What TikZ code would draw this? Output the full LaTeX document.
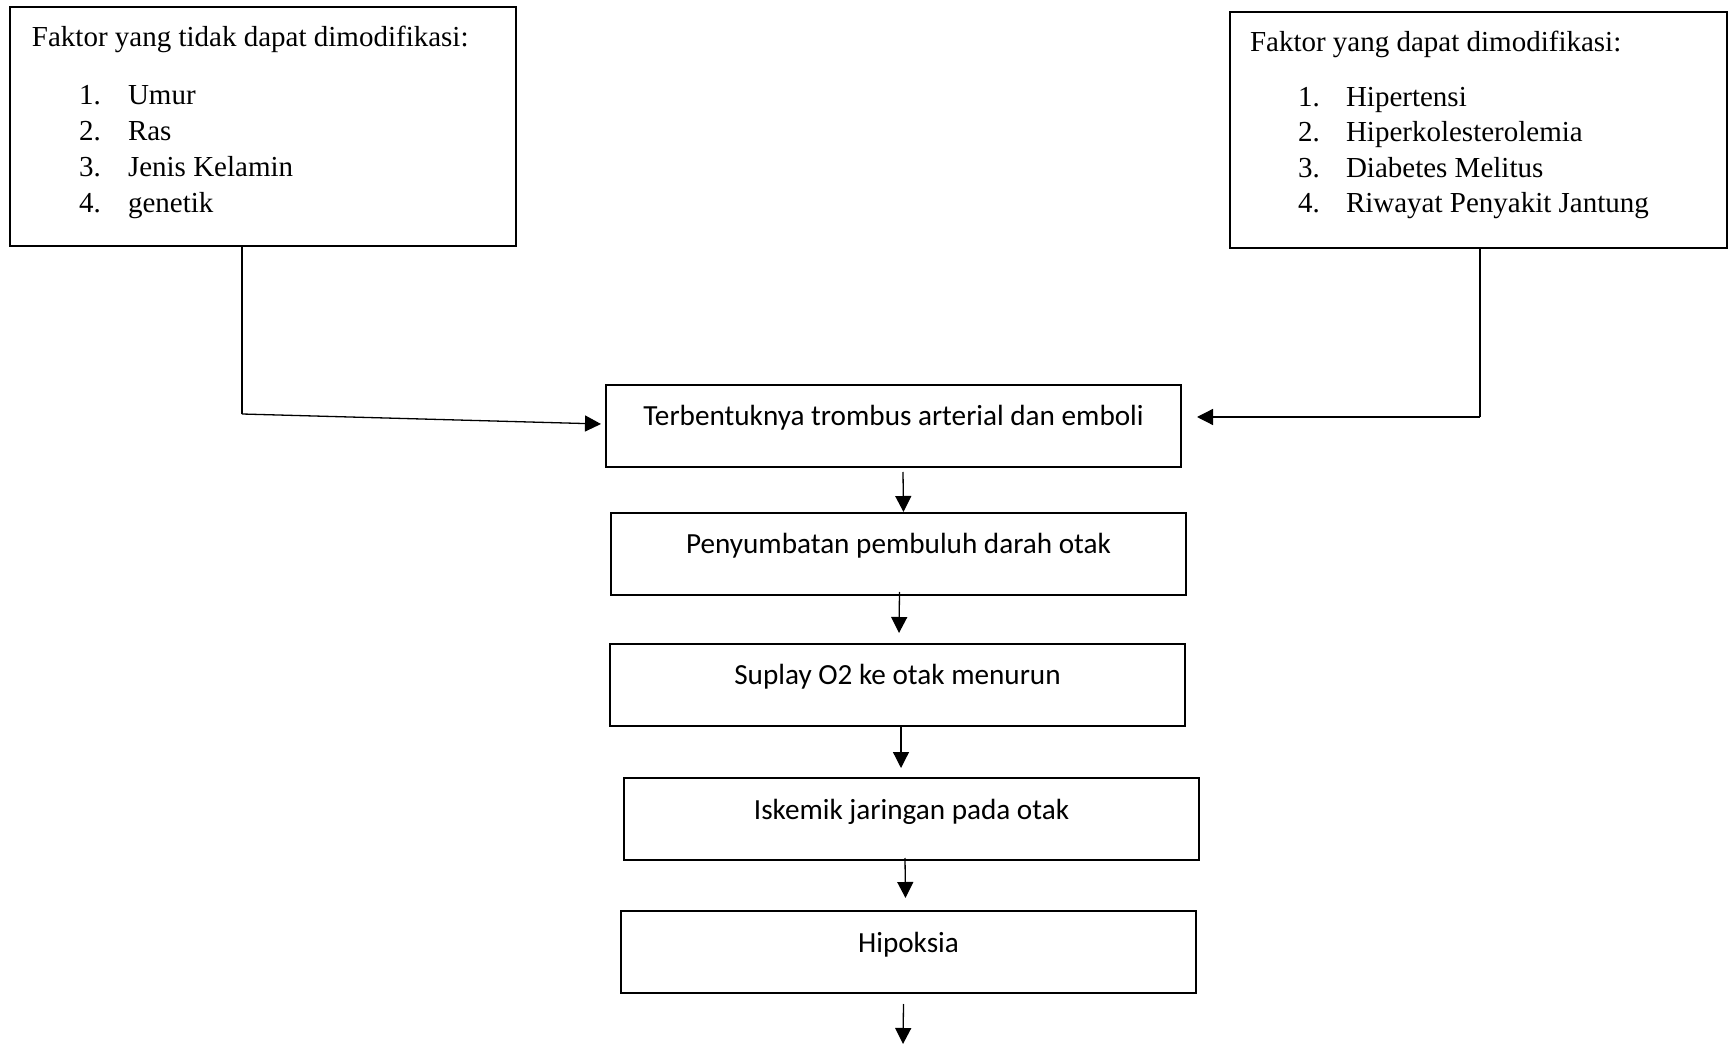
\documentclass[tikz,border=0pt]{standalone}
\usepackage{fontspec}
\setmainfont{Liberation Serif}
\newfontfamily\flowfont{Carlito}
\usetikzlibrary{calc,arrows.meta}
\begin{document}
\begin{tikzpicture}[x=0.5pt,y=-0.5pt,
  box/.style={draw,line width=1.25pt,rectangle,inner sep=0pt,outer sep=0pt,anchor=north west},
  flowbox/.style={box,minimum width=287.5pt,text height=20.5pt,text depth=20.5pt,
    font=\flowfont\fontsize{14.6pt}{17pt}\selectfont},
  txt/.style={inner sep=0pt,outer sep=0pt,anchor=base west,font=\fontsize{14.5pt}{17pt}\selectfont},
  conn/.style={line width=0.65pt},
  arr/.style={conn,-{Triangle[length=8pt,width=8pt]}}]
\path[use as bounding box,fill=white] (0,0) rectangle (1730,1047);

% factor boxes
\node[box,minimum width=253pt,minimum height=119.5pt] (L) at (10,7) {};
\node[box,minimum width=248.5pt,minimum height=118pt] (R) at (1230,12) {};

\node[txt] (Lh) at (32,47) {Faktor yang tidak dapat dimodifikasi:};
\node[txt] (Ln1) at (79,105) {1.};
\node[txt] (Li1) at (128,105) {Umur};
\node[txt] (Ln2) at (79,141) {2.};
\node[txt] (Li2) at (128,141) {Ras};
\node[txt] (Ln3) at (79,177) {3.};
\node[txt] (Li3) at (128,177) {Jenis Kelamin};
\node[txt] (Ln4) at (79,213) {4.};
\node[txt] (Li4) at (128,213) {genetik};

\node[txt] (Rh) at (1250,52) {Faktor yang dapat dimodifikasi:};
\node[txt] (Rn1) at (1298,107) {1.};
\node[txt] (Ri1) at (1346,107) {Hipertensi};
\node[txt] (Rn2) at (1298,142) {2.};
\node[txt] (Ri2) at (1346,142) {Hiperkolesterolemia};
\node[txt] (Rn3) at (1298,178) {3.};
\node[txt] (Ri3) at (1346,178) {Diabetes Melitus};
\node[txt] (Rn4) at (1298,213) {4.};
\node[txt] (Ri4) at (1346,213) {Riwayat Penyakit Jantung};

% flow boxes
\node[flowbox] (b1) at (606,385) {Terbentuknya trombus arterial dan emboli};
\node[flowbox] (b2) at (611,513) {Penyumbatan pembuluh darah otak};
\node[flowbox] (b3) at (610,644) {Suplay O2 ke otak menurun};
\node[flowbox] (b4) at (624,778) {Iskemik jaringan pada otak};
\node[flowbox] (b5) at (621,911) {Hipoksia};

% side connectors
\coordinate (lb) at (242,414);
\coordinate (rb) at (1480,417);
\draw[conn] (L.south -| lb) -- (lb);
\draw[arr] (lb) -- ($(b1.west)+(-5,-2)$);
\draw[conn] (R.south -| rb) -- (rb);
\draw[arr] (rb) -- ($(b1.east)+(16,-9)$);

% vertical arrows
\coordinate (end) at (903,1044);
\draw[arr] ($(b1.south)+(9.5,5)$) -- ($(b2.north)+(5,-1)$);
\draw[arr] ($(b2.south)+(1,-3)$) -- ($(b3.north)+(1.5,-11)$);
\draw[arr] ($(b3.south)+(3.5,0)$) -- ($(b4.north)+(-10.5,-10)$);
\draw[arr] ($(b4.south)+(-6.5,-2)$) -- ($(b5.north)+(-3,-13)$);
\draw[arr] ($(b5.south)+(-5,11)$) -- (end);
\end{tikzpicture}
\end{document}
